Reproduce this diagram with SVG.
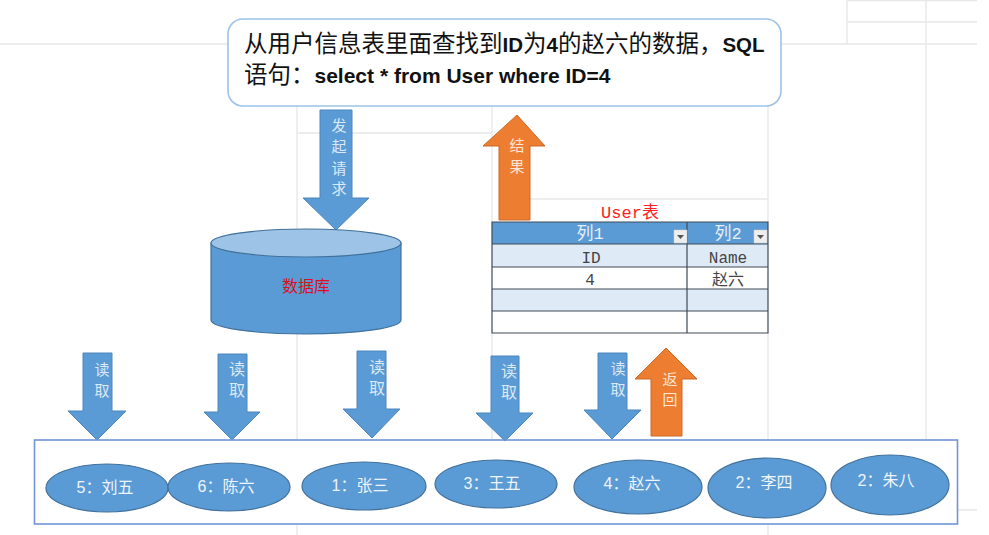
<svg xmlns="http://www.w3.org/2000/svg" width="989" height="535" viewBox="0 0 989 535">
<style>
text{font-family:"Liberation Sans","Noto Sans CJK SC",sans-serif;text-anchor:middle}
.grid{stroke:#e8e8e8;stroke-width:1.4;fill:none}
.blue{fill:#5b9bd5;stroke:#4a86bd;stroke-width:1}
.org{fill:#ed7d31;stroke:#c96a2a;stroke-width:1}
.lab{fill:#dce9f6;font-size:15px}
.olab{fill:#fbe5d6;font-size:15px}
.el{fill:#5b9bd5;stroke:#41719c;stroke-width:1.2}
.eltxt{fill:#eef4fb;font-size:16px}
.tl{stroke:#3f4a55;stroke-width:1.2;fill:none}
.tt{font-family:"Liberation Mono","Noto Sans CJK SC",monospace;font-size:16px;fill:#444}
.th{font-family:"Liberation Mono","Noto Sans CJK SC",monospace;font-size:17px;fill:#e6eff8}
.cb{fill:#eeeeee;stroke:#cfcfcf;stroke-width:.5}
.tri{fill:#555}
</style>
<g id="background-grid">
<path class="grid" d="M0 44H228M781 44H977M847 0V44M926 0V440M847 22H977M847 .5H977M297 106V440M297 525V535M768 106V222M768 333V440M768 525V535M492 106V222M492 333V440M297 133H320M352 133H492M530 199H768M958 510H977"/>
</g>
<g id="query">
<rect x="228" y="19" width="553" height="87" rx="15" fill="#fff" stroke="#9dc3e6" stroke-width="1.6"/>
<text x="244" y="52" style="text-anchor:start;font-size:23.500px;fill:#111">从用户信息表里面查找到<tspan font-weight="bold" font-size="20.500px">ID</tspan>为<tspan font-weight="bold" font-size="20.500px">4</tspan>的赵六的数据，<tspan font-weight="bold" font-size="20.500px">SQL</tspan></text>
<text x="244" y="83" style="text-anchor:start;font-size:23.500px;fill:#111">语句：<tspan font-weight="bold" font-size="21px">select * from User where ID=4</tspan></text>
</g>
<g id="connectors">
<g id="arrow-request">
<path class="blue" d="M320 110H352V198H369L336 230L303 198H320Z"/>
<text class="lab" x="339" y="131">发</text><text class="lab" x="339" y="152">起</text><text class="lab" x="339" y="174">请</text><text class="lab" x="339" y="194">求</text>
</g>
<g id="arrow-result">
<path class="org" d="M517 115L545 146H530V220H499V146H483Z"/>
<text class="olab" x="517" y="151">结</text><text class="olab" x="517" y="172">果</text>
</g>
<g id="arrow-read-1">
<path class="blue" d="M83 353H112V411H126L97 440L68 411H83Z"/>
<text class="lab" x="102" y="375">读</text><text class="lab" x="102" y="396">取</text>
</g>
<g id="arrow-read-2">
<path class="blue" d="M218 354H247V412H260L232 440L204 412H218Z"/>
<text class="lab" x="237" y="375" style="font-size:16px">读</text><text class="lab" x="237" y="396" style="font-size:16px">取</text>
</g>
<g id="arrow-read-3">
<path class="blue" d="M357 351H386V409H400L372 438L343 409H357Z"/>
<text class="lab" x="377" y="373" style="font-size:16px">读</text><text class="lab" x="377" y="394" style="font-size:16px">取</text>
</g>
<g id="arrow-read-4">
<path class="blue" d="M491 356H519V413H533L505 441L476 413H491Z"/>
<text class="lab" x="509" y="377" style="font-size:16px">读</text><text class="lab" x="509" y="398" style="font-size:16px">取</text>
</g>
<g id="arrow-read-5">
<path class="blue" d="M598 353H627V410H641L612 439L584 410H598Z"/>
<text class="lab" x="618" y="374">读</text><text class="lab" x="618" y="395">取</text>
</g>
<g id="arrow-return">
<path class="org" d="M666 348L697 379H682V436H651V379H635Z"/>
<text class="olab" x="670" y="385">返</text><text class="olab" x="670" y="405">回</text>
</g>
</g>
<g id="database">
<path d="M211 243V320A95 14 0 0 0 401 320V243Z" fill="#5b9bd5" stroke="#41719c" stroke-width="1.2"/>
<ellipse cx="306" cy="243" rx="95" ry="14" fill="#9dc3e6" stroke="#41719c" stroke-width="1.2"/>
<text x="306" y="292" style="font-size:16px;fill:#d81020">数据库</text>
</g>
<g id="user-table">
<text x="630" y="218" style="font-family:'Liberation Mono','Noto Sans CJK SC',monospace;font-size:17px;fill:#ff2020">User表</text>
<rect x="492" y="222" width="276" height="22" fill="#5b9bd5"/>
<rect x="492" y="244" width="276" height="23" fill="#deebf7"/>
<rect x="492" y="289" width="276" height="22" fill="#deebf7"/>
<path class="tl" d="M492 222H768V333H492ZM492 244H768M492 267H768M492 289H768M492 311H768M687 222V333"/>
<text class="th" x="590" y="239">列1</text><text class="th" x="728" y="239">列2</text>
<rect class="cb" x="674" y="230" width="13" height="13"/><path class="tri" d="M677 235H684L680.500 239Z"/>
<rect class="cb" x="754" y="230" width="13" height="13"/><path class="tri" d="M757 235H764L760.500 239Z"/>
<text class="tt" x="591" y="263">ID</text><text class="tt" x="728" y="263">Name</text>
<text class="tt" x="590" y="285">4</text><text class="tt" x="728" y="285">赵六</text>
</g>
<g id="storage">
<rect x="34.500" y="440" width="923" height="84" fill="none" stroke="#6f94d8" stroke-width="1.6"/>
</g>
<g id="row-5"><ellipse class="el" cx="107" cy="488" rx="61" ry="24"/><text class="eltxt" x="105" y="493">5：刘五</text></g>
<g id="row-6"><ellipse class="el" cx="229" cy="487" rx="61" ry="24"/><text class="eltxt" x="226" y="492">6：陈六</text></g>
<g id="row-1"><ellipse class="el" cx="364" cy="486" rx="62" ry="24"/><text class="eltxt" x="360" y="491">1：张三</text></g>
<g id="row-3"><ellipse class="el" cx="496" cy="484" rx="61" ry="24"/><text class="eltxt" x="492" y="489">3：王五</text></g>
<g id="row-4"><ellipse class="el" cx="638" cy="487" rx="64" ry="27"/><text class="eltxt" x="632" y="489">4：赵六</text></g>
<g id="row-2a"><ellipse class="el" cx="767" cy="488" rx="59" ry="30"/><text class="eltxt" x="764" y="488">2：李四</text></g>
<g id="row-2b"><ellipse class="el" cx="890" cy="485" rx="59" ry="30"/><text class="eltxt" x="886" y="486">2：朱八</text></g>
</svg>
